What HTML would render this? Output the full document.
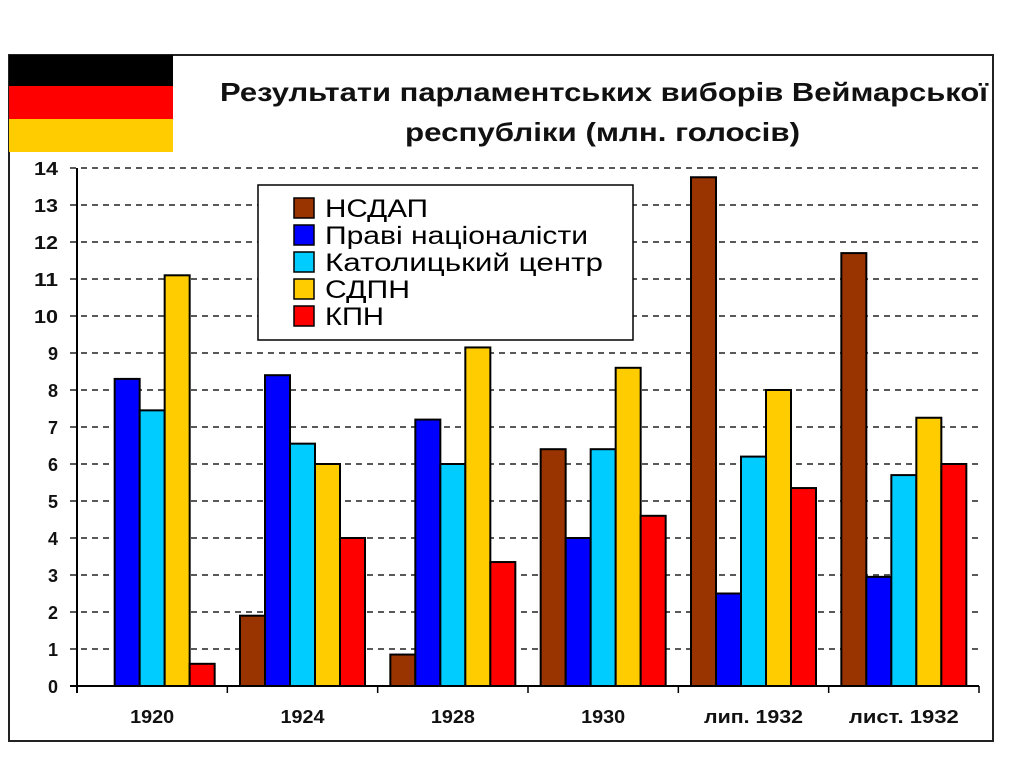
<!DOCTYPE html>
<html><head><meta charset="utf-8"><style>
body{margin:0;background:#fff;width:1024px;height:767px;overflow:hidden;font-family:"Liberation Sans",sans-serif}
</style></head><body>
<svg width="1024" height="767" id="svg" font-family="Liberation Sans, sans-serif">
<rect x="9" y="55" width="984" height="686" fill="#fff" stroke="#222" stroke-width="2"/>
<g>
<rect x="9" y="55" width="164" height="31" fill="#000"/>
<rect x="9" y="86" width="164" height="33" fill="#ff0000"/>
<rect x="9" y="119" width="164" height="33" fill="#ffcc00"/>
</g>
<text x="220" y="101" font-size="26" font-weight="bold" fill="#111" textLength="768" lengthAdjust="spacingAndGlyphs">Результати парламентських виборів Веймарської</text>
<text x="405" y="141" font-size="26" font-weight="bold" fill="#111" textLength="395" lengthAdjust="spacingAndGlyphs">республіки (млн. голосів)</text>
<g id="grid"></g><g id="bars"></g><g id="axes"></g><g id="legend"></g>
</svg>
<script>
const categories=["1920","1924","1928","1930","лип. 1932","лист. 1932"];
const seriesNames=["НСДАП","Праві націоналісти","Католицький центр","СДПН","КПН"];
const nsdap=[0,1.9,0.85,6.4,13.75,11.7];
const rightNat=[8.3,8.4,7.2,4.0,2.5,2.95];
const centre=[7.45,6.55,6.0,6.4,6.2,5.7];
const spd=[11.1,6.0,9.15,8.6,8.0,7.25];
const kpd=[0.6,4.0,3.35,4.6,5.35,6.0];
const yTicks=[0,1,2,3,4,5,6,7,8,9,10,11,12,13,14];
const series=[nsdap,rightNat,centre,spd,kpd];
const colors=["#993300","#0000ff","#00ccff","#ffcc00","#ff0000"];
const legendWidths=[103,263,278,85,59];
const NS="http://www.w3.org/2000/svg";
const x0=77,x1=979,y0=686,yTop=168,yMax=14;
const y=v=>y0-(v/yMax)*(y0-yTop);
const gw=(x1-x0)/categories.length;
const bw=25;
function mk(t,a,p){const e=document.createElementNS(NS,t);for(const k in a)e.setAttribute(k,a[k]);p.appendChild(e);return e;}
const grid=document.getElementById('grid'),bars=document.getElementById('bars'),axes=document.getElementById('axes'),leg=document.getElementById('legend');
yTicks.forEach(t=>{
 if(t>0){const l=mk('line',{x1:70,x2:x1,y1:y(t),y2:y(t),stroke:'#222','stroke-width':1.5,'stroke-dasharray':'6,5'},grid);
 
 }
 const a={x:58,y:y(t)+7,'text-anchor':'end','font-size':18,'font-weight':'bold',fill:'#111'};
 if(t>=10){a.textLength=24;a.lengthAdjust='spacingAndGlyphs';}
 const tx=mk('text',a,axes);
 tx.textContent=t;
 
 
});
categories.forEach((c,i)=>{
 const gx=x0+i*gw+(gw-5*bw)/2;
 series.forEach((s,j)=>{
  const r=mk('rect',{x:gx+j*bw,y:y(s[i]),width:bw,height:y0-y(s[i]),fill:colors[j],stroke:'#000','stroke-width':2},bars);
  
  
 });
 const w=c.length*11;
 const t=mk('text',{x:x0+(i+0.5)*gw-w/2,y:723,'font-size':18,'font-weight':'bold',fill:'#111',textLength:w,lengthAdjust:'spacingAndGlyphs'},axes);
 t.textContent=c;
 
 
 const tk=mk('line',{x1:x0+(i+1)*gw,x2:x0+(i+1)*gw,y1:y0,y2:y0+7,stroke:'#000','stroke-width':1.5},axes);
 
 
});
const ya=mk('line',{x1:x0,x2:x0,y1:yTop,y2:y0+7,stroke:'#000','stroke-width':2},axes);


const xa=mk('line',{x1:70,x2:x1,y1:y0,y2:y0,stroke:'#000','stroke-width':2},axes);


const lb=mk('rect',{x:258,y:185,width:375,height:155,fill:'#fff',stroke:'#000','stroke-width':1.5},leg);


seriesNames.forEach((n,j)=>{
 const yy=198+j*27;
 const sw=mk('rect',{x:294,y:yy,width:20,height:20,fill:colors[j],stroke:'#000','stroke-width':1.5},leg);
 
 
 const t=mk('text',{x:325,y:yy+19,'font-size':25,fill:'#000',textLength:legendWidths[j],lengthAdjust:'spacingAndGlyphs'},leg);
 t.textContent=n;
 
 
});
</script>
</body></html>
